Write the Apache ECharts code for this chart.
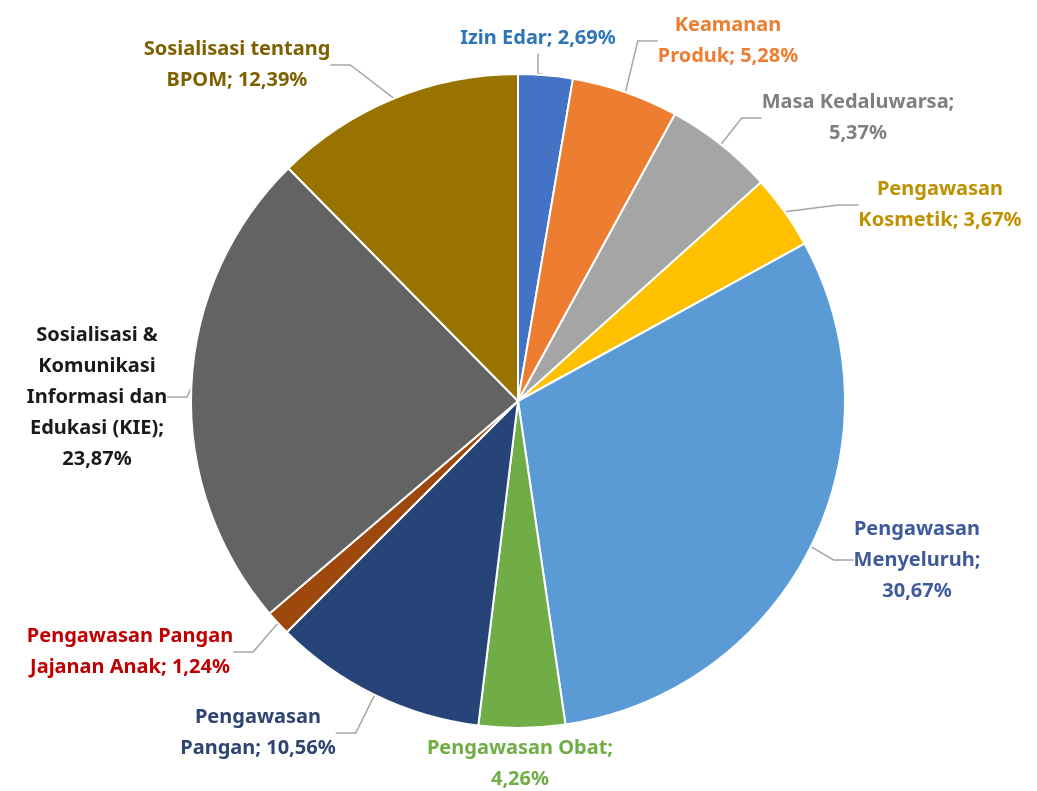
<!DOCTYPE html>
<html>
<head>
<meta charset="utf-8">
<style>
html,body{margin:0;padding:0;background:#fff;}
#chart{width:1037px;height:791px;}
</style>
<script src="https://cdn.jsdelivr.net/npm/echarts@6/dist/echarts.min.js"></script>
</head>
<body>
<div id="chart"></div>
<script>
var categories = [
  "Izin Edar",
  "Keamanan Produk",
  "Masa Kedaluwarsa",
  "Pengawasan Kosmetik",
  "Pengawasan Menyeluruh",
  "Pengawasan Obat",
  "Pengawasan Pangan",
  "Pengawasan Pangan Jajanan Anak",
  "Sosialisasi & Komunikasi Informasi dan Edukasi (KIE)",
  "Sosialisasi tentang BPOM"
];
var values = [2.69, 5.28, 5.37, 3.67, 30.67, 4.26, 10.56, 1.24, 23.87, 12.39];
var wrappedNames = [
  "Izin Edar;",
  "Keamanan\nProduk;",
  "Masa Kedaluwarsa;\n",
  "Pengawasan\nKosmetik;",
  "Pengawasan\nMenyeluruh;\n",
  "Pengawasan Obat;\n",
  "Pengawasan\nPangan;",
  "Pengawasan Pangan\nJajanan Anak;",
  "Sosialisasi &\nKomunikasi\nInformasi dan\nEdukasi (KIE);\n",
  "Sosialisasi tentang\nBPOM;"
];
var sliceColors = ["#4472C4","#ED7D31","#A5A5A5","#FFC000","#5B9BD5","#70AD47","#264478","#9E480E","#636363","#997300"];
var labelColors = ["#2E75B6","#ED7D31","#7F7F7F","#BF9000","#3F5A9A","#70AD47","#2F4470","#C00000","#1A1A1A","#7F6000"];

// label anchor centres (layout, not data)
var labelPos = [
  [538, 38],
  [728, 41],
  [858, 118],
  [940, 205],
  [917, 560],
  [520, 764],
  [258, 733],
  [130, 652],
  [97, 397],
  [237, 65]
];

function fmt(v){ return v.toFixed(2).replace('.', ',') + '%'; }

var data = categories.map(function(c, i){
  var sep = wrappedNames[i].slice(-1) === '\n' ? '' : ' ';
  return {
    name: c,
    value: values[i],
    itemStyle: { color: sliceColors[i] },
    label: { color: labelColors[i], formatter: wrappedNames[i] + sep + fmt(values[i]) },
    labelLine: { show: i !== 5 }
  };
});

var chart = echarts.init(document.getElementById('chart'), null, {renderer:'canvas'});
chart.setOption({
  backgroundColor: '#ffffff',
  animation: false,
  series: [{
    type: 'pie',
    center: [518, 401],
    radius: 327,
    startAngle: 90,
    clockwise: true,
    avoidLabelOverlap: false,
    itemStyle: { borderColor: '#ffffff', borderWidth: 2 },
    label: {
      show: true,
      position: 'outside',
      fontFamily: 'Noto Sans',
      fontWeight: 'bold',
      fontSize: 20,
      lineHeight: 31,
      align: 'center'
    },
    labelLine: {
      show: true,
      length: 20,
      length2: 20,
      lineStyle: { color: '#A6A6A6', width: 1.5 }
    },
    labelLayout: function(params){
      var p = labelPos[params.dataIndex];
      return { x: p[0], y: p[1], align: 'center', verticalAlign: 'middle' };
    },
    data: data
  }]
});
</script>
</body>
</html>
